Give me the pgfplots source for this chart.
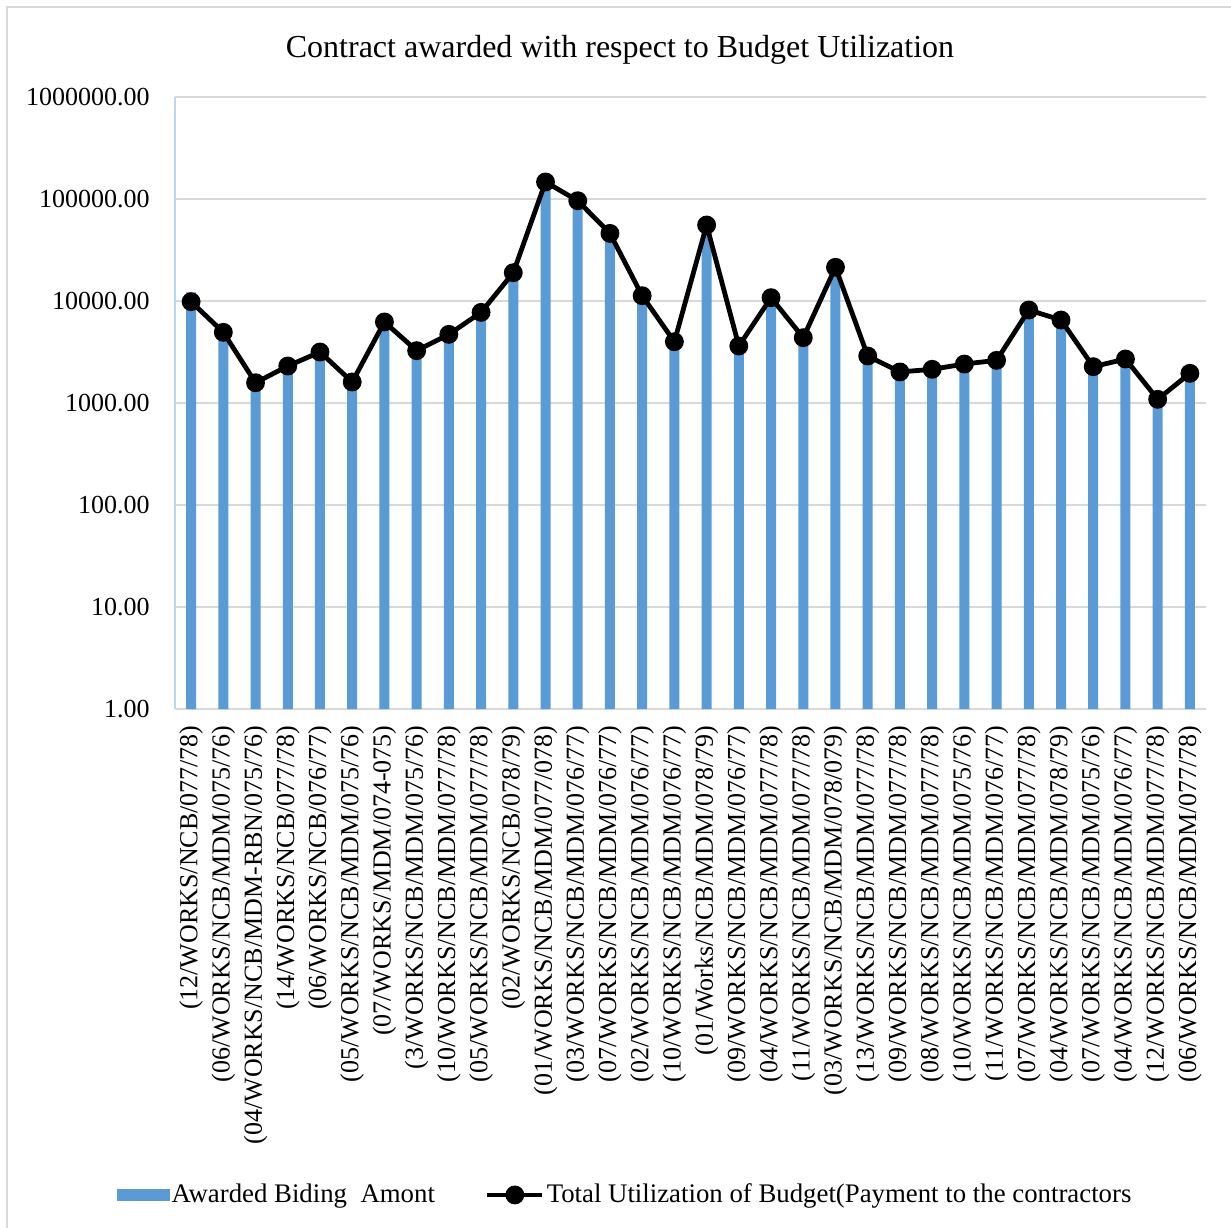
\documentclass[border=0pt]{standalone}
\usepackage{pgfplots}
\pgfplotsset{compat=1.18}
\usepackage{fontspec}
\setmainfont{Liberation Serif}
\definecolor{barblue}{HTML}{5B9BD5}
\definecolor{gridgray}{HTML}{D9D9D9}
\definecolor{yaxisblue}{HTML}{BDD7EE}
\pgfplotsset{
  barlegend/.style={legend image code/.code={\fill[barblue] (0pt,-3pt) rectangle (26.5pt,3pt);}},
  linelegend/.style={legend image code/.code={\draw[mark repeat=2,mark phase=2,##1] plot coordinates {(0pt,0pt)(13.75pt,0pt)(27.5pt,0pt)};}},
}
\begin{document}
\fontsize{13}{15.6}\selectfont
\begin{tikzpicture}[x=0.5pt,y=0.5pt]
\useasboundingbox (0,0) rectangle (1231,1227);
\draw[gridgray, line width=1pt] (7,-20) -- (7,1220) -- (1250,1220);
\node[font=\fontsize{16}{19}\selectfont] at (620,1177) {Contract awarded with respect to Budget Utilization};
\begin{axis}[
  at={(87.5pt,259pt)}, anchor=south west,
  scale only axis, width=515.5pt, height=306pt,
  ymode=log, ymin=1, ymax=1000000,
  xmin=-0.5, xmax=31.5,
  axis x line*=bottom, axis y line*=left,
  x axis line style={draw=gridgray, line width=1pt, -},
  y axis line style={draw=yaxisblue, line width=1pt, -},
  major tick length=0pt, minor tick length=0pt,
  ymajorgrids, major grid style={draw=gridgray, line width=0.8pt},
  ytick={1,10,100,1000,10000,100000,1000000},
  yticklabels={1.00,10.00,100.00,1000.00,10000.00,100000.00,1000000.00},
  yminorticks=false,
  yticklabel style={inner sep=0pt, font=\fontsize{13}{15.6}\selectfont},
  yticklabel shift=12.5pt,
  xtick={0,...,31},
  xticklabels={(12/WORKS/NCB/077/78),(06/WORKS/NCB/MDM/075/76),(04/WORKS/NCB/MDM-RBN/075/76),(14/WORKS/NCB/077/78),(06/WORKS/NCB/076/77),(05/WORKS/NCB/MDM/075/76),(07/WORKS/MDM/074-075),(3/WORKS/NCB/MDM/075/76),(10/WORKS/NCB/MDM/077/78),(05/WORKS/NCB/MDM/077/78),(02/WORKS/NCB/078/79),(01/WORKS/NCB/MDM/077/078),(03/WORKS/NCB/MDM/076/77),(07/WORKS/NCB/MDM/076/77),(02/WORKS/NCB/MDM/076/77),(10/WORKS/NCB/MDM/076/77),(01/Works/NCB/MDM/078/79),(09/WORKS/NCB/MDM/076/77),(04/WORKS/NCB/MDM/077/78),(11/WORKS/NCB/MDM/077/78),(03/WORKS/NCB/MDM/078/079),(13/WORKS/NCB/MDM/077/78),(09/WORKS/NCB/MDM/077/78),(08/WORKS/NCB/MDM/077/78),(10/WORKS/NCB/MDM/075/76),(11/WORKS/NCB/MDM/076/77),(07/WORKS/NCB/MDM/077/78),(04/WORKS/NCB/MDM/078/79),(07/WORKS/NCB/MDM/075/76),(04/WORKS/NCB/MDM/076/77),(12/WORKS/NCB/MDM/077/78),(06/WORKS/NCB/MDM/077/78)},
  xticklabel style={rotate=90, anchor=east, inner sep=0pt, font=\fontsize{13}{15.6}\selectfont},
  xticklabel shift=8pt,
  legend columns=2,
  legend style={at={(rel axis cs:0.4365,-0.794)}, anchor=center, draw=none, fill=none,
    font=\fontsize{13.4}{16}\selectfont, inner sep=0pt,
    /tikz/every even column/.append style={column sep=24pt},
    nodes={inner sep=1pt}},
]
\addplot[ybar, bar width=5pt, bar shift=0pt, fill=barblue, draw=none, barlegend]
coordinates {
(0,12150)(1,4700)(2,1500)(3,2200)(4,3000)(5,1530)(6,5900)(7,3100)
(8,4450)(9,7300)(10,17800)(11,138000)(12,90000)(13,43000)(14,10600)(15,3780)
(16,52000)(17,3430)(18,10200)(19,4150)(20,20200)(21,2740)(22,1910)(23,2030)
(24,2290)(25,2490)(26,7700)(27,6150)(28,2150)(29,2560)(30,1030)(31,1850)};
\addlegendentry{Awarded Biding\ \ Amont}
\addplot[black, line width=2.4pt, mark=*, mark size=3.5pt, mark options={solid, fill=black}, linelegend]
coordinates {
(0,9850)(1,4930)(2,1580)(3,2305)(4,3160)(5,1607)(6,6230)(7,3260)
(8,4710)(9,7740)(10,18950)(11,146900)(12,96200)(13,46000)(14,11270)(15,3990)
(16,55600)(17,3620)(18,10780)(19,4370)(20,21400)(21,2890)(22,2015)(23,2140)
(24,2410)(25,2620)(26,8160)(27,6510)(28,2270)(29,2700)(30,1087)(31,1955)};
\addlegendentry{Total Utilization of Budget(Payment to the contractors}
\end{axis}
\end{tikzpicture}
\end{document}
